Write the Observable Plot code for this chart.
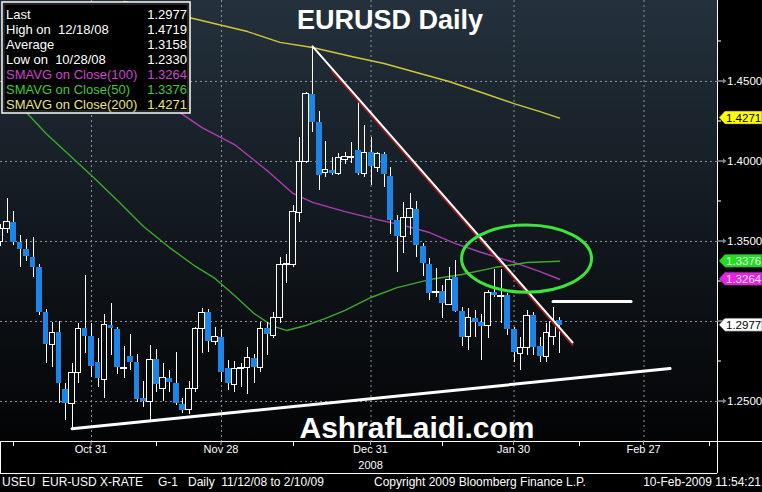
<!DOCTYPE html>
<html><head><meta charset="utf-8">
<script src="https://cdn.jsdelivr.net/npm/d3@7"></script>
<script src="https://cdn.jsdelivr.net/npm/@observablehq/plot@0.6"></script>
<style>
html,body{margin:0;padding:0;background:#000;}
#chart{width:762px;height:492px;overflow:hidden;}
</style></head><body><div id="chart"></div>
<script>
// ---------- DATA ----------
const startDate = "2008-10-13"; // first session shown (weekdays, Bloomberg style)
const open = [1.3494,1.3581,1.3619,1.3494,1.3450,1.3400,1.3337,1.3056,1.2850,1.2931,
1.2575,1.2487,1.2675,1.2956,1.2906,1.2744,1.2637,1.2975,1.2950,1.2706,
1.2781,1.2744,1.2519,1.2494,1.2762,1.2581,1.2644,1.2612,1.2481,1.2444,
1.2575,1.2950,1.3056,1.2869,1.2900,1.2706,1.2600,1.2706,1.2712,1.2769,
1.2712,1.2956,1.2912,1.3019,1.3350,1.3350,1.3681,1.3994,1.4419,1.4244,
1.3925,1.3944,1.3919,1.4012,1.4019,1.4069,1.3919,1.4056,1.3962,1.4044,
1.3906,1.3631,1.3525,1.3644,1.3700,1.3469,1.3356,1.3175,1.3187,1.3106,
1.3275,1.3062,1.2900,1.3019,1.2994,1.2969,1.3181,1.3150,1.3162,1.2950,
1.2794,1.2837,1.3037,1.2844,1.2775,1.2900,1.3006];
const high = [1.3606,1.3769,1.3687,1.3537,1.3512,1.3525,1.3356,1.3075,1.2994,1.3000,
1.2612,1.2737,1.2987,1.3287,1.2987,1.2894,1.3044,1.3112,1.2962,1.2844,
1.2919,1.2794,1.2625,1.2850,1.2825,1.2737,1.2694,1.2806,1.2519,1.2625,
1.2962,1.3081,1.3075,1.2962,1.2950,1.2756,1.2750,1.2737,1.2837,1.2794,
1.2994,1.2994,1.3056,1.3400,1.3419,1.3725,1.4150,1.4431,1.4719,1.4312,
1.4125,1.4025,1.4050,1.4056,1.4119,1.4369,1.4225,1.4150,1.4056,1.4056,
1.3962,1.3662,1.3744,1.3800,1.3750,1.3487,1.3394,1.3331,1.3225,1.3337,
1.3381,1.3087,1.3081,1.3069,1.3044,1.3194,1.3325,1.3325,1.3175,1.2962,
1.2900,1.3069,1.3056,1.2900,1.2987,1.3087,1.3025];
const low = [1.3469,1.3550,1.3475,1.3337,1.3375,1.3275,1.3037,1.2737,1.2712,1.2487,
1.2381,1.2330,1.2612,1.2800,1.2650,1.2587,1.2519,1.2787,1.2669,1.2644,
1.2694,1.2494,1.2462,1.2375,1.2556,1.2500,1.2556,1.2475,1.2425,1.2419,
1.2556,1.2800,1.2806,1.2850,1.2619,1.2569,1.2556,1.2587,1.2544,1.2612,
1.2681,1.2787,1.2894,1.2987,1.3237,1.3337,1.3619,1.3987,1.4181,1.3819,
1.3900,1.3912,1.3912,1.3981,1.3987,1.3912,1.3900,1.3850,1.3931,1.3837,
1.3544,1.3306,1.3425,1.3537,1.3400,1.3281,1.3131,1.3150,1.3019,1.3100,
1.3056,1.2844,1.2819,1.2900,1.2756,1.2894,1.3150,1.2987,1.2912,1.2744,
1.2694,1.2787,1.2787,1.2744,1.2744,1.2850,1.2800];
const close = [1.3575,1.3619,1.3494,1.3450,1.3406,1.3337,1.3056,1.2856,1.2931,1.2612,
1.2487,1.2675,1.2956,1.2906,1.2719,1.2644,1.2975,1.2956,1.2712,1.2712,
1.2744,1.2512,1.2500,1.2762,1.2606,1.2644,1.2619,1.2487,1.2444,1.2581,
1.2950,1.3056,1.2875,1.2900,1.2681,1.2612,1.2706,1.2712,1.2769,1.2712,
1.2956,1.2919,1.3019,1.3350,1.3362,1.3687,1.3994,1.4419,1.4244,1.3912,
1.3944,1.3925,1.4019,1.4025,1.4025,1.3925,1.4056,1.3969,1.4044,1.3919,
1.3631,1.3531,1.3644,1.3700,1.3475,1.3362,1.3175,1.3187,1.3112,1.3262,
1.3062,1.2900,1.3019,1.2994,1.2969,1.3181,1.3162,1.3162,1.2950,1.2806,
1.2837,1.3037,1.2837,1.2781,1.2931,1.2994,1.2977];

const sma200Dates = ["2008-11-07","2008-11-21","2008-12-04","2008-12-11","2008-12-18","2008-12-26","2009-01-02","2009-01-09","2009-01-16","2009-01-23","2009-01-30","2009-02-05","2009-02-10"];
const sma200 = [1.5000,1.4900,1.4812,1.4744,1.4712,1.4656,1.4612,1.4556,1.4500,1.4431,1.4362,1.4312,1.4271];
const sma100Dates = ["2008-11-12","2008-11-20","2008-11-25","2008-12-02","2008-12-09","2008-12-15","2008-12-18","2008-12-25","2009-01-01","2009-01-07","2009-01-13","2009-01-19","2009-01-23","2009-01-30","2009-02-05","2009-02-10"];
const sma100 = [1.4456,1.4294,1.4212,1.4106,1.3944,1.3800,1.3744,1.3687,1.3637,1.3600,1.3556,1.3487,1.3431,1.3369,1.3312,1.3264];
const sma50Dates = ["2008-10-15","2008-10-17","2008-10-22","2008-10-27","2008-10-31","2008-11-06","2008-11-12","2008-11-18","2008-11-24","2008-11-27","2008-12-02","2008-12-05","2008-12-10","2008-12-12","2008-12-17","2008-12-22","2008-12-25","2008-12-31","2009-01-06","2009-01-13","2009-01-20","2009-01-27","2009-02-03","2009-02-10"];
const sma50 = [1.4400,1.4306,1.4175,1.4062,1.3912,1.3756,1.3594,1.3462,1.3344,1.3269,1.3162,1.3050,1.2969,1.2944,1.2975,1.3019,1.3069,1.3150,1.3212,1.3262,1.3294,1.3337,1.3369,1.3376];

const trendDates = ["2008-12-18","2009-02-12"], trendValues = [1.4719,1.2869];
const trendShadowDates = ["2008-12-23","2009-02-12"], trendShadowValues = [1.4580,1.2869];
const supportDates = ["2008-10-28","2009-03-05"], supportValues = [1.2330,1.2706];
const levelDates = ["2009-02-09","2009-02-25"], levelValues = [1.3125,1.3125];
const ellipseCenterDate = "2009-02-03", ellipseCenterValue = 1.3390, ellipseHalfSessions = 10, ellipseHalfPrice = 0.021;

const xDomainEnd = 110.3; // sessions shown (to mid-March)
const yDomain = [1.225, 1.5006];
const yMajor = [1.25,1.30,1.35,1.40,1.45];
const yMinor = [1.275,1.325,1.375,1.425,1.475];
const xTickDates = ["2008-10-31","2008-11-28","2008-12-31","2009-01-30","2009-02-27"];
const xTickLabels = ["Oct 31","Nov 28","Dec 31","Jan 30","Feb 27"];
const xMinorDates = ["2008-10-15","2008-11-14","2008-12-15","2009-01-15","2009-02-13","2009-03-13"];
const yearLabel = "2008", yearLabelDate = "2008-12-31";

const titleText = "EURUSD Daily";
const watermark = "AshrafLaidi.com";
const legendLabels = ["Last","High on  12/18/08","Average","Low on  10/28/08","SMAVG on Close(100)","SMAVG on Close(50)","SMAVG on Close(200)"];
const legendValues = ["1.2977","1.4719","1.3158","1.2330","1.3264","1.3376","1.4271"];
const legendColors = ["#ffffff","#ffffff","#ffffff","#ffffff","#d042d0","#3ccc3c","#e8e87a"];
const tagValues = [1.4271,1.3376,1.3264,1.2977];
const tagFills = ["#ffff00","#22dd22","#e622e6","#ffffff"];
const tagTextColors = ["#000000","#e8ffe8","#ffe6ff","#000000"];
const footerParts = [["USEU  EUR-USD X-RATE", 2, "start"],["G-1", 158, "start"],["Daily  11/12/08 to 2/10/09", 188, "start"],["Copyright 2009 Bloomberg Finance L.P.", 374, "start"],["10-Feb-2009 11:54:21", 761, "end"]];

// ---------- HELPERS ----------
const FONT = "'Liberation Sans', Arial, Helvetica, sans-serif";
const parse = d3.utcParse("%Y-%m-%d");
const t0 = parse(startDate);
function wdOf(d) { const days = Math.round((d - t0) / 864e5); const w = Math.floor(days / 7); return w * 5 + Math.min(days - 7 * w, 5); }
const wd = s => wdOf(parse(s));
const sessions = d3.utcDays(t0, d3.utcDay.offset(t0, 200)).filter(d => d.getUTCDay() % 6 !== 0).slice(0, close.length);
const candles = sessions.map((d, k) => ({x: wdOf(d), o: open[k], h: high[k], l: low[k], c: close[k], up: close[k] >= open[k]}));
const pts = (dates, vals) => dates.map((d, k) => ({x: wd(d), y: vals[k]}));

function background(index, scales, values, dims) {
  const g = d3.create("svg:g");
  const grad = g.append("defs").append("linearGradient").attr("id", "bgGrad")
    .attr("gradientUnits", "userSpaceOnUse").attr("x1", 0).attr("y1", dims.marginTop).attr("x2", 0).attr("y2", dims.height - dims.marginBottom);
  [[0, "#24313c"], [0.45, "#141b22"], [1, "#030405"]].forEach(([o, c]) => grad.append("stop").attr("offset", o).attr("stop-color", c));
  g.append("rect").attr("x", dims.marginLeft).attr("y", dims.marginTop)
    .attr("width", dims.width - dims.marginLeft - dims.marginRight)
    .attr("height", dims.height - dims.marginTop - dims.marginBottom).attr("fill", "url(#bgGrad)");
  return g.node();
}

function overlay(index, scales, values, dims) {
  const {x, y} = scales;
  const W = dims.width, H = dims.height;
  const R = W - dims.marginRight, B = H - dims.marginBottom;
  const g = d3.create("svg:g").attr("font-family", FONT).attr("text-anchor", "start");
  // ellipse annotation
  const cx = x(wd(ellipseCenterDate)), cy = y(ellipseCenterValue);
  g.append("ellipse").attr("cx", cx).attr("cy", cy)
    .attr("rx", x(wd(ellipseCenterDate) + ellipseHalfSessions) - cx)
    .attr("ry", y(ellipseCenterValue - ellipseHalfPrice) - cy)
    .attr("fill", "none").attr("stroke", "#3de43d").attr("stroke-width", 3);
  // title & watermark
  g.append("text").attr("x", 390).attr("y", 29).attr("text-anchor", "middle").attr("font-size", 27)
    .attr("font-weight", "bold").attr("fill", "#fff").text(titleText);
  g.append("text").attr("x", 417).attr("y", 438).attr("text-anchor", "middle").attr("font-size", 30)
    .attr("font-weight", "bold").attr("fill", "#fff").text(watermark);
  // legend
  g.append("rect").attr("x", 2).attr("y", 2).attr("width", 188).attr("height", 111)
    .attr("fill", "#000").attr("stroke", "#fff").attr("stroke-width", 1.5);
  g.append("rect").attr("x", 4).attr("y", 4).attr("width", 184).attr("height", 107)
    .attr("fill", "none").attr("stroke", "#555").attr("stroke-width", 0.8);
  legendLabels.forEach((t, k) => {
    const by = 18.5 + k * 15.08;
    g.append("text").attr("x", 6).attr("y", by).attr("font-size", 13).attr("text-anchor", "start").attr("fill", legendColors[k]).style("white-space", "pre").text(t);
    g.append("text").attr("x", 187).attr("y", by).attr("font-size", 13).attr("text-anchor", "end").attr("fill", legendColors[k]).text(legendValues[k]);
  });
  // right panel
  g.append("rect").attr("x", R).attr("y", 0).attr("width", W - R).attr("height", B).attr("fill", "#000");
  // frame lines
  g.append("line").attr("x1", 0).attr("x2", W).attr("y1", B + 0.5).attr("y2", B + 0.5).attr("stroke", "#fff");
  g.append("line").attr("x1", R + 0.5).attr("x2", R + 0.5).attr("y1", 0).attr("y2", B + 32).attr("stroke", "#fff");
  g.append("line").attr("x1", 0).attr("x2", R).attr("y1", B + 32.5).attr("y2", B + 32.5).attr("stroke", "#fff");
  g.append("line").attr("x1", 0.5).attr("x2", 0.5).attr("y1", B).attr("y2", B + 32).attr("stroke", "#fff");
  // y axis
  yMinor.forEach(v => g.append("line").attr("x1", R).attr("x2", R + 4).attr("y1", y(v)).attr("y2", y(v)).attr("stroke", "#fff"));
  const fmt = d3.format(".4f");
  const tagYs = tagValues.map(v => y(v));
  yMajor.forEach(v => {
    const yy = y(v);
    g.append("line").attr("x1", R).attr("x2", R + 7).attr("y1", yy).attr("y2", yy).attr("stroke", "#8a8f96").attr("stroke-width", 1.5);
    g.append("path").attr("d", `M${R + 6},${yy - 2.5}L${R + 9.5},${yy}L${R + 6},${yy + 2.5}Z`).attr("fill", "#8a8f96");
    // a value tag hides the tick label it covers (as in the terminal)
    if (tagYs.every(ty => Math.abs(ty - yy) > 12))
      g.append("text").attr("x", R + 10).attr("y", yy + 4).attr("font-size", 11.5).attr("text-anchor", "start").attr("fill", "#fff").text(fmt(v));
  });
  // value tags
  tagValues.forEach((v, k) => {
    const yy = y(v);
    g.append("path").attr("d", `M${R + 2},${yy}L${R + 8},${yy - 6.5}L${W},${yy - 6.5}L${W},${yy + 6.5}L${R + 8},${yy + 6.5}Z`)
      .attr("fill", tagFills[k]).attr("stroke", "#444").attr("stroke-width", 0.5);
    g.append("text").attr("x", R + 9).attr("y", yy + 4).attr("font-size", 11.5).attr("text-anchor", "start").attr("fill", tagTextColors[k]).text(fmt(v));
  });
  // x axis
  xMinorDates.forEach(d => { const xx = Math.round(x(wd(d))) + 0.5; g.append("line").attr("x1", xx).attr("x2", xx).attr("y1", B).attr("y2", B + 5).attr("stroke", "#fff"); });
  xTickDates.forEach((d, k) => {
    const xx = x(wd(d));
    g.append("line").attr("x1", xx).attr("x2", xx).attr("y1", B).attr("y2", B + 4).attr("stroke", "#aaa");
    g.append("text").attr("x", xx).attr("y", B + 12).attr("text-anchor", "middle").attr("font-size", 11).attr("fill", "#fff").text(xTickLabels[k]);
  });
  g.append("text").attr("x", x(wd(yearLabelDate))).attr("y", B + 28).attr("text-anchor", "middle").attr("font-size", 11).attr("fill", "#fff").text(yearLabel);
  // footer
  footerParts.forEach(([t, fx, anchor]) => g.append("text").attr("x", fx).attr("y", H - 6).attr("text-anchor", anchor)
    .attr("font-size", 12).attr("fill", "#fff").style("white-space", "pre").text(t));
  return g.node();
}

const chart = Plot.plot({
  width: 762, height: 492,
  marginLeft: 0, marginRight: 45, marginTop: 0, marginBottom: 51,
  x: {domain: [0, xDomainEnd], axis: null},
  y: {domain: yDomain, axis: null},
  style: {background: "#000", color: "#fff", fontFamily: FONT},
  marks: [
    background,
    Plot.ruleY(yMajor, {stroke: "#8c939b", strokeDasharray: "2,3", strokeWidth: 1}),
    Plot.ruleX(xTickDates.map(wd), {stroke: "#8c939b", strokeDasharray: "2,3", strokeWidth: 1}),
    Plot.line(pts(sma200Dates, sma200), {x: "x", y: "y", stroke: "#cfc83a", strokeWidth: 1.4}),
    Plot.line(pts(sma100Dates, sma100), {x: "x", y: "y", stroke: "#b03cb6", strokeWidth: 1.4}),
    Plot.line(pts(sma50Dates, sma50), {x: "x", y: "y", stroke: "#3fa82e", strokeWidth: 1.4}),
    Plot.ruleX(candles, {x: "x", y1: "l", y2: "h", stroke: "#fff", strokeWidth: 1, shapeRendering: "crispEdges"}),
    Plot.rect(candles.filter(d => !d.up), {x1: d => d.x - 0.46, x2: d => d.x + 0.46, y1: "o", y2: "c", fill: "#1e84e6", shapeRendering: "crispEdges"}),
    Plot.rect(candles.filter(d => d.up), {x1: d => d.x - 0.4, x2: d => d.x + 0.4, y1: "o", y2: "c", fill: "url(#bgGrad)", stroke: "#fff", strokeWidth: 1, shapeRendering: "crispEdges"}),
    Plot.line(pts(trendShadowDates, trendShadowValues), {x: "x", y: "y", stroke: "#9a1c1c", strokeWidth: 2, dy: 2.5}),
    Plot.line(pts(trendDates, trendValues), {x: "x", y: "y", stroke: "#fff", strokeWidth: 2}),
    Plot.line(pts(supportDates, supportValues), {x: "x", y: "y", stroke: "#fff", strokeWidth: 3}),
    Plot.line(pts(levelDates, levelValues), {x: "x", y: "y", stroke: "#fff", strokeWidth: 3}),
    overlay
  ]
});
document.getElementById("chart").appendChild(chart);
</script>
</body></html>
